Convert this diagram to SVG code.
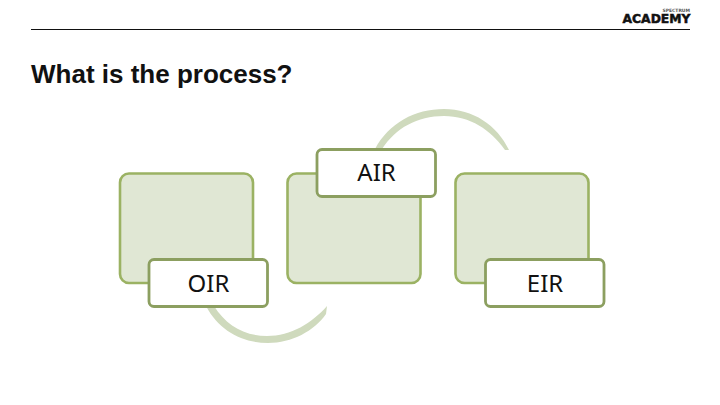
<svg xmlns="http://www.w3.org/2000/svg" width="720" height="405" viewBox="0 0 720 405">
<style>
.back{fill:#e0e7d4;stroke:#9bb263;stroke-width:2.6}
.front{fill:#fff;stroke:#8c9f60;stroke-width:2.8}
.lbl{font-family:"Noto Sans","Liberation Sans",Arial,sans-serif;font-size:24px;fill:#111;text-anchor:middle;font-weight:400}
.arc{fill:#cfdabd}
</style>
<rect width="720" height="405" fill="#fff"/>
<g id="header">
<line x1="31" y1="29.500" x2="690" y2="29.500" stroke="#111" stroke-width="1"/>
<text x="31" y="83" font-family="'Liberation Sans',Arial,sans-serif" font-size="26" font-weight="700" fill="#111">What is the process?</text>
</g>
<g id="logo">
<text x="690" y="11.500" text-anchor="end" font-family="'DejaVu Sans',sans-serif" font-size="4.500" font-weight="700" fill="#555">SPECTRUM</text>
<text x="690.500" y="23" text-anchor="end" font-family="'DejaVu Sans',sans-serif" font-size="12" font-weight="700" fill="#111" textLength="68" lengthAdjust="spacingAndGlyphs" stroke="#111" stroke-width=".5">ACADEMY</text>
</g>
<g id="connectors">
<path class="arc" d="M375 149C389 123 415 109 444 109C473 109 497 125 509 150L505 150C491 130 470 116 444 116C417 116 396 128 382 149Z"/>
<path class="arc" d="M206 306C219 331 243 343 268 343C292 343 314 331 326 314L327 306C312 323 291 336 267 336C244 336 226 325 214 306Z"/>
</g>
<g id="node-oir-back"><rect class="back" x="120" y="173.500" width="133" height="109.500" rx="9"/></g>
<g id="node-air-back"><rect class="back" x="287.500" y="173.500" width="133" height="109.500" rx="9"/></g>
<g id="node-eir-back"><rect class="back" x="455.500" y="173.500" width="133" height="109.500" rx="9"/></g>
<g id="node-air"><rect class="front" x="317" y="149.500" width="118.500" height="47" rx="5"/><text class="lbl" x="376.500" y="181">AIR</text></g>
<g id="node-oir"><rect class="front" x="149" y="259.500" width="118.500" height="47" rx="5"/><text class="lbl" x="208.500" y="291.500">OIR</text></g>
<g id="node-eir"><rect class="front" x="485.500" y="259.500" width="118.500" height="47" rx="5"/><text class="lbl" x="545" y="291.500">EIR</text></g>
</svg>
